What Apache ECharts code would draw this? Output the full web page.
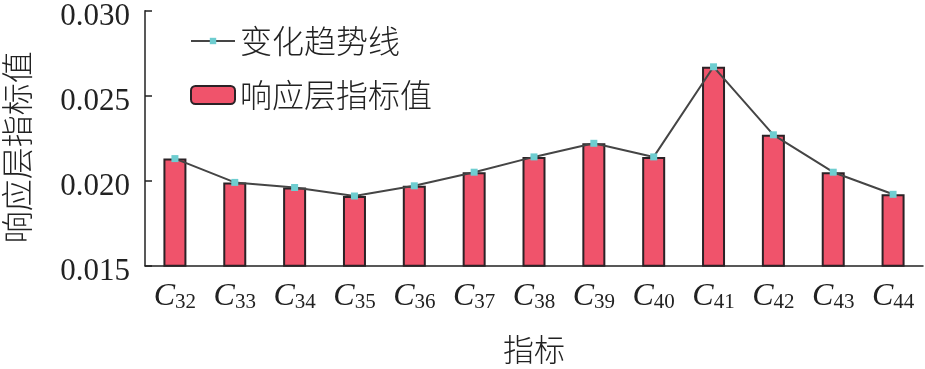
<!DOCTYPE html>
<html><head><meta charset="utf-8">
<script src="https://cdn.jsdelivr.net/npm/echarts@6/dist/echarts.min.js"></script>
<style>html,body{margin:0;padding:0;background:#fff}#c{width:925px;height:369px}</style>
</head><body><div id="c"></div>
<script>
const categories = ['32','33','34','35','36','37','38','39','40','41','42','43','44'];
const values = [0.0213,0.0199,0.0196,0.0191,0.0197,0.0205,0.0214,0.0222,0.0214,0.0267,0.0227,0.0205,0.0192];
const yTicks = [0.015,0.020,0.025,0.030];
const seriesNames = ['变化趋势线','响应层指标值'];
const axisNames = {x:'指标', y:'响应层指标值'};

const serif = 'Liberation Serif, Times New Roman, serif';
const cjk = 'Noto Sans CJK SC, sans-serif';
const legendText = {fontFamily:cjk,fontWeight:300,fontSize:32,color:'#222',lineHeight:34};
const chart = echarts.init(document.getElementById('c'));
chart.setOption({
  animation:false,
  backgroundColor:'#fff',
  grid:{left:145,right:2,top:10.7,bottom:103.3,outerBoundsMode:'none',containLabel:false},
  legend:[
    {orient:'vertical', left:185, top:19, itemWidth:44, itemHeight:8,
     data:[seriesNames[0]], textStyle:legendText},
    {orient:'vertical', left:185, top:73, itemWidth:44, itemHeight:18,
     data:[seriesNames[1]], textStyle:legendText}
  ],
  xAxis:{
    type:'category', data:categories,
    axisLine:{lineStyle:{color:'#222',width:1.5}},
    axisTick:{inside:true,length:8,lineStyle:{color:'#222',width:1.5}},
    axisLabel:{
      margin:15, interval:0,
      formatter:v=>'{c|C}{s|'+v+'}',
      rich:{
        c:{fontFamily:serif,fontStyle:'italic',fontSize:32,lineHeight:32,color:'#222',verticalAlign:'bottom'},
        s:{fontFamily:serif,fontSize:21,lineHeight:16,color:'#222',verticalAlign:'bottom'}
      }
    },
    name:axisNames.x, nameLocation:'middle', nameGap:68,
    nameTextStyle:{fontFamily:cjk,fontWeight:300,fontSize:31,color:'#222'}
  },
  yAxis:{
    type:'value', min:yTicks[0], max:yTicks[yTicks.length-1], interval:0.005,
    axisLine:{show:true,lineStyle:{color:'#222',width:1.5}},
    axisTick:{show:true,inside:true,length:7,lineStyle:{color:'#222',width:1.5}},
    splitLine:{show:false},
    axisLabel:{margin:15,fontFamily:serif,fontSize:31,color:'#222',verticalAlign:'top',lineHeight:13,formatter:v=>v.toFixed(3)},
    name:axisNames.y, nameLocation:'middle', nameGap:112, nameRotate:90,
    nameTextStyle:{fontFamily:cjk,fontWeight:300,fontSize:32,color:'#222',padding:[0,18,0,0]}
  },
  series:[
    {name:seriesNames[1], type:'bar', data:values, barWidth:23, z:2,
     itemStyle:{color:'#f0536b',borderColor:'#2b2226',borderWidth:2}},
    {name:seriesNames[0], type:'line', data:values, z:3,
     symbol:'rect', symbolSize:7, showSymbol:true,
     lineStyle:{color:'#454545',width:2},
     itemStyle:{color:'#6ecdd0'}}
  ]
});
</script></body></html>
